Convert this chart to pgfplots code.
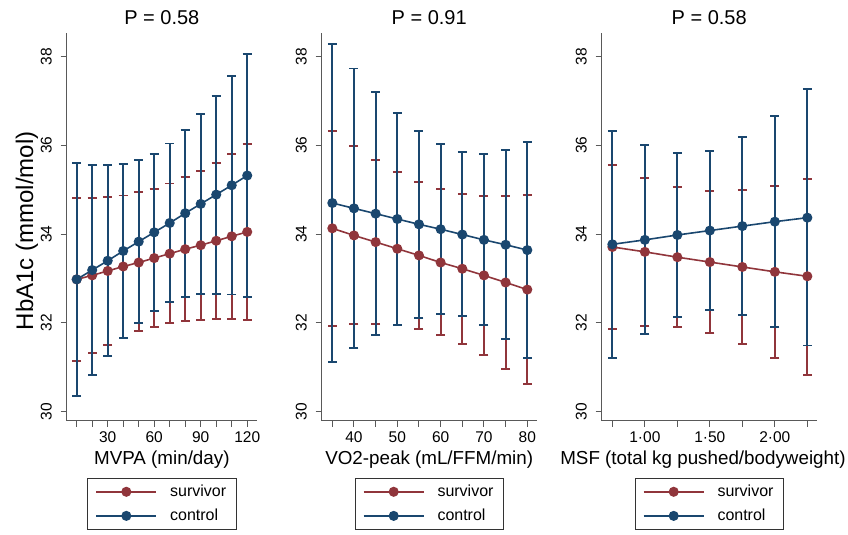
\documentclass[border=0pt]{standalone}
\usepackage{fontspec}
\setmainfont{Liberation Sans}
\usepackage{pgfplots}
\usepackage{pgfplotstable}
\pgfplotsset{compat=1.18}

\definecolor{surv}{RGB}{144,53,59}
\definecolor{ctrl}{RGB}{26,71,111}

% x, survivor mean/lower/upper, control mean/lower/upper
\pgfplotstableread{
x   sm    sl    su    cm    cl    cu
10  32.98 31.14 34.81 32.98 30.36 35.60
20  33.07 31.33 34.81 33.19 30.82 35.56
30  33.17 31.51 34.83 33.40 31.26 35.55
40  33.27 31.66 34.87 33.62 31.66 35.58
50  33.36 31.81 34.94 33.83 32.00 35.66
60  33.46 31.90 35.02 34.04 32.27 35.81
70  33.56 31.99 35.14 34.25 32.47 36.04
80  33.66 32.04 35.28 34.47 32.59 36.34
90  33.75 32.06 35.43 34.68 32.65 36.71
100 33.85 32.08 35.61 34.89 32.66 37.11
110 33.95 32.08 35.81 35.10 32.64 37.56
120 34.05 32.06 36.02 35.32 32.58 38.05
}\mvpa

\pgfplotstableread{
x   sm    sl    su    cm    cl    cu
35  34.13 31.93 36.33 34.70 31.12 38.29
40  33.97 31.97 35.98 34.58 31.43 37.73
45  33.82 31.98 35.67 34.46 31.72 37.21
50  33.67 31.95 35.40 34.34 31.96 36.73
55  33.52 31.86 35.18 34.22 32.12 36.33
60  33.36 31.72 35.01 34.11 32.21 36.02
65  33.22 31.53 34.91 33.99 32.15 35.84
70  33.07 31.28 34.86 33.87 31.95 35.80
75  32.91 30.97 34.85 33.76 31.63 35.89
80  32.75 30.63 34.88 33.64 31.21 36.08
}\vo

\pgfplotstableread{
x    sm    sl    su    cm    cl    cu
0.75 33.71 31.87 35.55 33.77 31.21 36.33
1.00 33.60 31.94 35.26 33.87 31.75 36.00
1.25 33.48 31.91 35.06 33.98 32.14 35.82
1.50 33.37 31.78 34.97 34.08 32.29 35.87
1.75 33.26 31.53 34.99 34.18 32.18 36.18
2.00 33.15 31.21 35.09 34.28 31.90 36.66
2.25 33.05 30.83 35.25 34.37 31.49 37.26
}\msf

\pgfplotsset{
  panel/.style={
    scale only axis, anchor=south west,
    height=388pt, ymin=29.79, ymax=38.53,
    ytick={30,32,...,38},
    axis x line*=bottom, axis y line*=left,
    axis line style={black!65, line width=1pt},
    tick style={black!65, line width=1pt},
    tick align=outside, major tick length=6pt,
    /pgf/number format/assume math mode=true,
    ticklabel style={font=\fontsize{15.5}{18}\selectfont},
    yticklabel style={rotate=90, anchor=south},
    yticklabel shift=5.5pt, xticklabel shift=1pt,
    title style={font=\fontsize{20}{24}\selectfont, at={(0.5,1.021)}, anchor=base, yshift=-6pt},
    xlabel style={font=\fontsize{18.8}{22}\selectfont, at={(axis description cs:0.5,-0.111)}, anchor=base},
    legend style={at={(0.5,-0.1465)}, anchor=north, draw=black!80, line width=0.8pt,
      font=\fontsize{16}{19}\selectfont, inner xsep=8pt, inner ysep=5pt, row sep=7pt,
      /tikz/every odd column/.append style={column sep=11pt}},
    legend cell align=left,
    legend image code/.code={
      \draw[mark repeat=2,mark phase=2,#1] plot coordinates {(0pt,0pt) (30pt,0pt) (60pt,0pt)};},
  },
  ci/.style={forget plot, draw=none, mark=none,
    error bars/.cd, y dir=both, y explicit,
    error bar style={draw=#1, line width=1.9pt},
    error mark options={draw=#1, rotate=90, mark size=4.5pt, line width=1.9pt}},
  mn/.style={draw=#1, line width=1.6pt, mark=*, mark size=4.2pt, mark options={fill=#1, draw=#1}},
}

\newcommand{\drawpanel}[1]{
  \addplot[ci=surv] table[x=x, y=sm, y error plus expr=\thisrow{su}-\thisrow{sm}, y error minus expr=\thisrow{sm}-\thisrow{sl}] {#1};
  \addplot[ci=ctrl] table[x=x, y=cm, y error plus expr=\thisrow{cu}-\thisrow{cm}, y error minus expr=\thisrow{cm}-\thisrow{cl}] {#1};
  \addplot[mn=surv] table[x=x, y=sm] {#1};
  \addlegendentry{survivor}
  \addplot[mn=ctrl] table[x=x, y=cm] {#1};
  \addlegendentry{control}
}

\begin{document}
\begin{tikzpicture}
\begin{axis}[panel, at={(66.7pt,114pt)}, width=190.3pt,
  xmin=3.55, xmax=126.3,
  xtick={10,20,...,120}, xticklabels={,,30,,,60,,,90,,,120},
  title={P = 0.58}, xlabel={MVPA (min/day)},
  ylabel={HbA1c (mmol/mol)},
  ylabel style={font=\fontsize{24}{28}\selectfont, at={(axis description cs:-0.177,0.49)}, anchor=base}]
\drawpanel{\mvpa}
\end{axis}

\begin{axis}[panel, at={(321.7pt,114pt)}, width=215pt,
  xmin=32.55, xmax=82.17,
  xtick={35,40,...,80}, xticklabels={,40,,50,,60,,70,,80},
  title={P = 0.91}, xlabel={VO2-peak (mL/FFM/min)}]
\drawpanel{\vo}
\end{axis}

\begin{axis}[panel, at={(601.7pt,114pt)}, width=215pt,
  xmin=0.668, xmax=2.322,
  xtick={0.75,1,1.25,1.5,1.75,2,2.25}, xticklabels={,1·00,,1·50,,2·00,},
  title={P = 0.58}, xlabel={MSF (total kg pushed/bodyweight)},
  xlabel style={at={(axis description cs:0.471,-0.111)}}]
\drawpanel{\msf}
\end{axis}

\pgfresetboundingbox
\path (0,0) rectangle (848pt,535pt);
\end{tikzpicture}
\end{document}
